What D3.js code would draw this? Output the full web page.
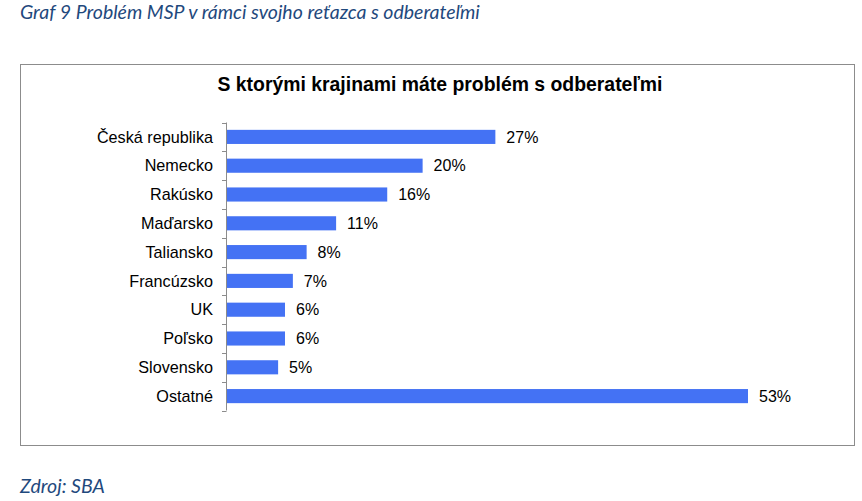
<!DOCTYPE html>
<html>
<head>
<meta charset="utf-8">
<script src="https://cdn.jsdelivr.net/npm/d3@7.9.0/dist/d3.min.js"></script>
<style>
  body { margin: 0; background: #fff; }
  svg { display: block; }
</style>
</head>
<body>
<svg id="chart" width="862" height="501"></svg>
<script>
// values (shares of firms, %)
const countries = ["Česká republika", "Nemecko", "Rakúsko", "Maďarsko", "Taliansko",
  "Francúzsko", "UK", "Poľsko", "Slovensko", "Ostatné"];
const shares = [27.3, 19.9, 16.3, 11.1, 8.1, 6.7, 5.9, 5.9, 5.2, 53.0];

const caption = "Graf 9 Problém MSP v rámci svojho reťazca s odberateľmi";
const chartTitle = "S ktorými krajinami máte problém s odberateľmi";
const source = "Zdroj: SBA";

const data = countries.map((c, i) => ({ country: c, share: shares[i] }));

const svg = d3.select("#chart");
const font = "Arial, 'Liberation Sans', sans-serif";
const capFont = "Lato, 'Open Sans', sans-serif";
const blue = "#1f497d";

svg.append("text")
  .attr("x", 20).attr("y", 19)
  .attr("font-family", capFont).attr("font-style", "italic")
  .attr("font-size", 19.5).attr("fill", blue)
  .text(caption);

svg.append("text")
  .attr("x", 20).attr("y", 493)
  .attr("font-family", capFont).attr("font-style", "italic")
  .attr("font-size", 19.5).attr("fill", blue)
  .text(source);

// chart frame
svg.append("rect")
  .attr("x", 20.5).attr("y", 64.5)
  .attr("width", 834).attr("height", 381)
  .attr("fill", "#fff").attr("stroke", "#8c8c8c");

svg.append("text")
  .attr("x", 440).attr("y", 91)
  .attr("text-anchor", "middle")
  .attr("font-family", font).attr("font-weight", "bold")
  .attr("font-size", 19.4).attr("fill", "#000")
  .text(chartTitle);

const area = { left: 227, top: 122.5, bottom: 410.5 };

const x = d3.scaleLinear().domain([0, 53]).range([area.left, area.left + 521]);
const y = d3.scaleBand().domain(countries).range([area.top, area.bottom]).paddingInner(0.51).paddingOuter(0.255);

svg.append("g")
  .selectAll("rect")
  .data(data)
  .join("rect")
  .attr("x", x(0))
  .attr("y", d => y(d.country))
  .attr("width", d => x(d.share) - x(0))
  .attr("height", y.bandwidth())
  .attr("fill", "#4472f4");

// axis line with ticks between categories
const axis = svg.append("g").attr("stroke", "#8c8c8c").attr("fill", "none");
axis.append("line")
  .attr("x1", area.left - 0.5).attr("x2", area.left - 0.5)
  .attr("y1", area.top).attr("y2", area.bottom);
const step = (area.bottom - area.top) / countries.length;
axis.selectAll("line.tick")
  .data(d3.range(countries.length + 1))
  .join("line")
  .attr("class", "tick")
  .attr("x1", area.left - 5).attr("x2", area.left - 0.5)
  .attr("y1", i => Math.round(area.top + i * step) + 0.5)
  .attr("y2", i => Math.round(area.top + i * step) + 0.5);

svg.append("g")
  .selectAll("text")
  .data(data)
  .join("text")
  .attr("x", area.left - 14)
  .attr("y", d => y(d.country) + y.bandwidth() / 2)
  .attr("dy", "0.35em")
  .attr("text-anchor", "end")
  .attr("font-family", font).attr("font-size", 16.2).attr("fill", "#000")
  .text(d => d.country);

svg.append("g")
  .selectAll("text")
  .data(data)
  .join("text")
  .attr("x", d => x(d.share) + 11)
  .attr("y", d => y(d.country) + y.bandwidth() / 2)
  .attr("dy", "0.35em")
  .attr("font-family", font).attr("font-size", 16).attr("fill", "#000")
  .text(d => Math.round(d.share) + "%");
</script>
</body>
</html>
